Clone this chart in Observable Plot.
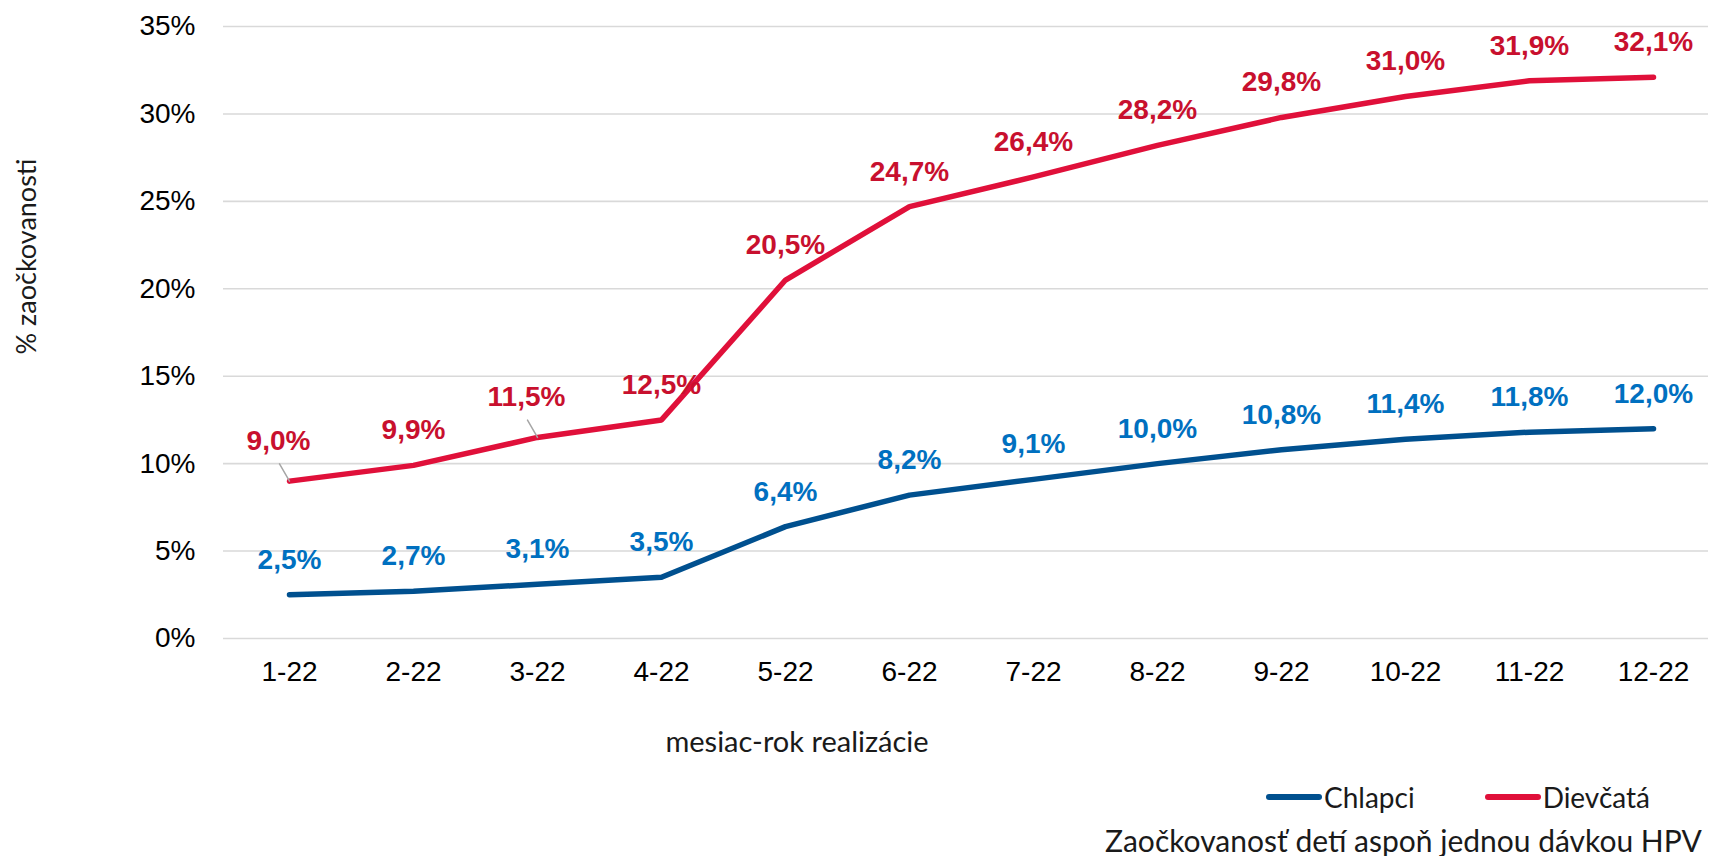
<!DOCTYPE html>
<html>
<head>
<meta charset="utf-8">
<script src="https://cdn.jsdelivr.net/npm/d3@7"></script>
<script src="https://cdn.jsdelivr.net/npm/@observablehq/plot@0.6"></script>
<style>
  html, body { margin: 0; padding: 0; background: #fff; }
  body { width: 1711px; height: 856px; overflow: hidden; position: relative; font-family: Lato, "Open Sans", sans-serif; }
  #chart svg { display: block; }
  #legend { position: absolute; left: 1266px; top: 782px; height: 30px; display: flex; align-items: center; font-size: 28px; line-height: 30px; color: #1a1a1a; }
  #legend .item { display: flex; align-items: center; margin-right: 70px; }
  #legend .sw { display: inline-block; width: 56px; height: 6px; border-radius: 3px; margin-right: 2px; }
  #caption { position: absolute; left: 1105px; top: 824px; line-height: 32px; font-size: 30px; color: #1a1a1a; white-space: nowrap; }
</style>
</head>
<body>
<div id="chart"></div>
<div id="legend"></div>
<div id="caption"></div>
<script>
// ---- data ----
const months = ["1-22","2-22","3-22","4-22","5-22","6-22","7-22","8-22","9-22","10-22","11-22","12-22"];
const seriesNames = ["Chlapci", "Dievčatá"];
const chlapci  = [2.5, 2.7, 3.1, 3.5, 6.4, 8.2, 9.1, 10.0, 10.8, 11.4, 11.8, 12.0];
const dievcata = [9.0, 9.9, 11.5, 12.5, 20.5, 24.7, 26.4, 28.2, 29.8, 31.0, 31.9, 32.1];
const yTicks = [0, 5, 10, 15, 20, 25, 30, 35];
const leaderMonths = ["1-22", "3-22"]; // Dievčatá labels with leader lines
const yTitle = "% zaočkovanosti";
const xTitle = "mesiac-rok realizácie";
const captionText = "Zaočkovanosť detí aspoň jednou dávkou HPV";

// ---- styles ----
const lineColors  = {"Chlapci": "#00508F", "Dievčatá": "#E0103A"};
const labelColors = {"Chlapci": "#0070C0", "Dievčatá": "#C8102E"};

const rows = [
  ...months.map((m, i) => ({month: m, series: "Chlapci", value: chlapci[i]})),
  ...months.map((m, i) => ({month: m, series: "Dievčatá", value: dievcata[i]}))
];
const fmt = v => v.toFixed(1).replace(".", ",") + "%";

const isLeader = d => d.series === "Dievčatá" && leaderMonths.includes(d.month);

let leaderMark;
try {
  leaderMark = Plot.vector(rows.filter(isLeader), {
    x: "month", y: "value", length: 20, rotate: -30, anchor: "start",
    stroke: "#a6a6a6", strokeWidth: 1.5,
    shape: {draw(context, l) { context.moveTo(0, 0); context.lineTo(0, -l); }}
  });
} catch (e) {
  leaderMark = Plot.vector(rows.filter(isLeader), {
    x: "month", y: "value", length: 20, rotate: -30, anchor: "start",
    shape: "spike", r: 0.7, fill: "#a6a6a6", stroke: "none"
  });
}

const chart = Plot.plot({
  width: 1711,
  height: 770,
  marginLeft: 223,
  marginRight: 3,
  marginTop: 26,
  marginBottom: 132,
  style: {fontFamily: "Lato, sans-serif", background: "#fff", overflow: "visible"},
  x: {type: "point", domain: months, range: [284, 1657], padding: 0},
  y: {domain: [0, 35]},
  marks: [
    Plot.ruleY(yTicks, {stroke: "#d9d9d9", strokeWidth: 1.6}),
    Plot.axisY({ticks: yTicks, tickSize: 0, tickPadding: 28, tickFormat: d => d + "%",
      label: null, fontSize: 28, fontFamily: "'Liberation Sans', Arial, sans-serif", fill: "#000"}),
    Plot.axisX({tickSize: 0, tickPadding: 23, label: null, fontSize: 28,
      fontFamily: "'Liberation Sans', Arial, sans-serif", fill: "#000"}),
    Plot.line(rows, {x: "month", y: "value", z: "series",
      stroke: d => lineColors[d.series], strokeWidth: 5.5, strokeLinecap: "round", strokeLinejoin: "round"}),
    leaderMark,
    Plot.text(rows.filter(d => !isLeader(d)), {x: "month", y: "value", text: d => fmt(d.value),
      dy: -35, fill: d => labelColors[d.series], fontSize: 28, fontWeight: "bold",
      fontFamily: "'Liberation Sans', Arial, sans-serif"}),
    Plot.text(rows.filter(isLeader), {x: "month", y: "value", text: d => fmt(d.value),
      dx: -11, dy: -40, fill: d => labelColors[d.series], fontSize: 28, fontWeight: "bold",
      fontFamily: "'Liberation Sans', Arial, sans-serif"}),
    Plot.text([yTitle], {frameAnchor: "left", rotate: -90, dx: -196, dy: -76,
      textAnchor: "middle", lineAnchor: "middle",
      fontSize: 27, fill: "#1a1a1a", fontFamily: "Lato, sans-serif"}),
    Plot.text([xTitle], {frameAnchor: "bottom", dx: -169, dy: 104,
      textAnchor: "middle", lineAnchor: "middle",
      fontSize: 29, fill: "#1a1a1a", fontFamily: "Lato, sans-serif"})
  ]
});
document.getElementById("chart").appendChild(chart);

const legend = document.getElementById("legend");
seriesNames.forEach(s => {
  const item = document.createElement("span");
  item.className = "item";
  const sw = document.createElement("span");
  sw.className = "sw";
  sw.style.background = lineColors[s];
  const t = document.createElement("span");
  t.textContent = s;
  item.appendChild(sw); item.appendChild(t);
  legend.appendChild(item);
});
document.getElementById("caption").textContent = captionText;
</script>
</body>
</html>
